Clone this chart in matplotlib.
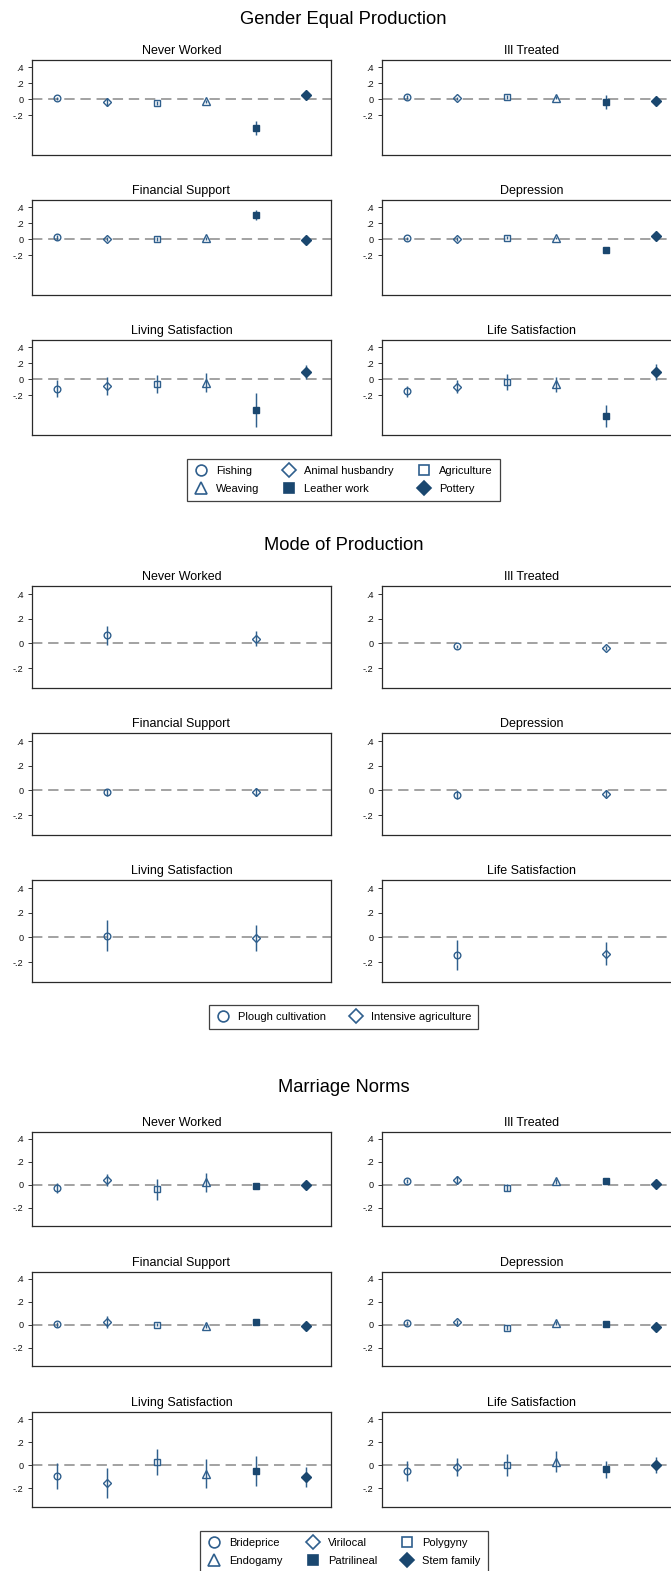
import matplotlib
matplotlib.use("Agg")
import matplotlib.pyplot as plt
from matplotlib.lines import Line2D

plt.rcParams['font.family'] = ['Liberation Sans', 'DejaVu Sans']

W, H, DPI = 671, 1571, 100

outcomes = ["Never Worked", "Ill Treated", "Financial Support",
            "Depression", "Living Satisfaction", "Life Satisfaction"]
ytick_values = [-0.2, 0.0, 0.2, 0.4]
ytick_labels = ["-.2", "0", ".2", ".4"]

# ---- Gender equal production: coefficients and 95% CI half-widths
gep_title = "Gender Equal Production"
gep_groups = ["Fishing", "Animal husbandry", "Agriculture",
              "Weaving", "Leather work", "Pottery"]
gep_coef = {
    "Never Worked":        [0.010, -0.040, -0.050, -0.030, -0.360, 0.050],
    "Ill Treated":         [0.025, 0.010, 0.025, 0.015, -0.040, -0.030],
    "Financial Support":   [0.020, 0.000, 0.000, 0.010, 0.305, -0.013],
    "Depression":          [0.010, 0.000, 0.017, 0.013, -0.140, 0.034],
    "Living Satisfaction": [-0.120, -0.088, -0.067, -0.046, -0.390, 0.092],
    "Life Satisfaction":   [-0.155, -0.096, -0.038, -0.063, -0.465, 0.088],
}
gep_ci = {
    "Never Worked":        [0.020, 0.050, 0.030, 0.020, 0.090, 0.030],
    "Ill Treated":         [0.020, 0.020, 0.020, 0.020, 0.090, 0.020],
    "Financial Support":   [0.030, 0.030, 0.020, 0.020, 0.060, 0.020],
    "Depression":          [0.020, 0.020, 0.020, 0.015, 0.020, 0.030],
    "Living Satisfaction": [0.105, 0.115, 0.113, 0.117, 0.215, 0.087],
    "Life Satisfaction":   [0.068, 0.083, 0.105, 0.095, 0.140, 0.095],
}

# ---- Mode of production
mop_title = "Mode of Production"
mop_groups = ["Plough cultivation", "Intensive agriculture"]
mop_coef = {
    "Never Worked":        [0.067, 0.040],
    "Ill Treated":         [-0.024, -0.038],
    "Financial Support":   [-0.016, -0.011],
    "Depression":          [-0.033, -0.027],
    "Living Satisfaction": [0.016, -0.005],
    "Life Satisfaction":   [-0.140, -0.130],
}
mop_ci = {
    "Never Worked":        [0.078, 0.062],
    "Ill Treated":         [0.012, 0.018],
    "Financial Support":   [0.032, 0.033],
    "Depression":          [0.039, 0.027],
    "Living Satisfaction": [0.124, 0.107],
    "Life Satisfaction":   [0.120, 0.090],
}

# ---- Marriage norms
mn_title = "Marriage Norms"
mn_groups = ["Brideprice", "Virilocal", "Polygyny",
             "Endogamy", "Patrilineal", "Stem family"]
mn_coef = {
    "Never Worked":        [-0.029, 0.044, -0.041, 0.023, -0.015, -0.006],
    "Ill Treated":         [0.032, 0.038, -0.026, 0.029, 0.029, 0.003],
    "Financial Support":   [0.003, 0.023, 0.000, -0.009, 0.023, -0.009],
    "Depression":          [0.015, 0.020, -0.026, 0.015, 0.009, -0.020],
    "Living Satisfaction": [-0.094, -0.158, 0.029, -0.073, -0.047, -0.100],
    "Life Satisfaction":   [-0.050, -0.012, 0.003, 0.029, -0.035, 0.003],
}
mn_ci = {
    "Never Worked":        [0.045, 0.053, 0.088, 0.084, 0.015, 0.015],
    "Ill Treated":         [0.020, 0.035, 0.032, 0.020, 0.020, 0.020],
    "Financial Support":   [0.020, 0.050, 0.015, 0.020, 0.020, 0.015],
    "Depression":          [0.020, 0.025, 0.020, 0.015, 0.015, 0.020],
    "Living Satisfaction": [0.112, 0.132, 0.112, 0.128, 0.132, 0.086],
    "Life Satisfaction":   [0.088, 0.078, 0.093, 0.092, 0.072, 0.067],
}

LINE_C = '#2f5f8d'
FILL_C = '#1a476f'
ZERO_C = '#8e8e8e'

# marker, filled, plot size, legend size
STYLES6 = [('o', False, 4.8, 7.8), ('D', False, 4.2, 6.8), ('s', False, 4.6, 7.0),
           ('^', False, 5.3, 8.2), ('s', True, 5.0, 7.0), ('D', True, 5.0, 7.4)]
STYLES2 = STYLES6[:2]

fig = plt.figure(figsize=(W / DPI, H / DPI), dpi=DPI)


def add_px_axes(x0, top, w, h):
    return fig.add_axes([x0 / W, 1 - (top + h) / H, w / W, h / H])


def draw_panel(ax, title, coef, ci, styles, ylim):
    n = len(coef)
    xs = list(range(1, n + 1))
    ax.axhline(0, color=ZERO_C, lw=1.15, dashes=(6.5, 3.6), zorder=1)
    for x, c, e, (m, filled, ms, _) in zip(xs, coef, ci, styles):
        ax.vlines(x, c - e, c + e, color=LINE_C, lw=1.05, zorder=2)
        col = FILL_C if filled else LINE_C
        ax.plot([x], [c], ls='none', marker=m, ms=ms,
                mfc=col if filled else 'none', mec=col, mew=1.0, zorder=3)
    ax.set_xlim(0.5, n + 0.5)
    ax.set_ylim(*ylim)
    ax.set_xticks([])
    ax.set_yticks(ytick_values)
    ax.set_yticklabels(ytick_labels)
    ax.tick_params(axis='y', length=3, width=0.7, pad=3, labelsize=6.6,
                   color='#333333', labelcolor='#111111')
    for s in ax.spines.values():
        s.set_linewidth(0.9)
        s.set_color('#2a2a2a')
    ax.set_title(title, fontsize=9, pad=4)


def draw_section(title, title_y, row_tops, row_h, coef, ci, styles, ylim):
    fig.text(343.5 / W, 1 - title_y / H, title, ha='center', va='center', fontsize=13.2)
    for i, name in enumerate(outcomes):
        r, c = divmod(i, 2)
        x0 = 32 if c == 0 else 382
        ax = add_px_axes(x0, row_tops[r], 299, row_h)
        draw_panel(ax, name, coef[name], ci[name], styles, ylim)


def draw_legend(groups, styles, ncol, cx, cy):
    handles = []
    for (m, filled, _, lms) in styles:
        col = FILL_C if filled else LINE_C
        handles.append(Line2D([], [], ls='none', marker=m, ms=lms,
                              mfc=col if filled else 'none', mec=col, mew=1.2))
    labels = list(groups)
    if ncol == 3:
        order = [0, 3, 1, 4, 2, 5]
        handles = [handles[k] for k in order]
        labels = [labels[k] for k in order]
    leg = fig.legend(handles, labels, ncol=ncol, loc='center',
                     bbox_to_anchor=(cx / W, 1 - cy / H), fontsize=8,
                     frameon=True, fancybox=False, edgecolor='#111111',
                     handlelength=1.2, handletextpad=0.75, columnspacing=2.1,
                     borderpad=0.65, labelspacing=0.68, borderaxespad=0)
    leg.get_frame().set_linewidth(0.9)


draw_section(gep_title, 19, [60, 200, 340], 94.5, gep_coef, gep_ci, STYLES6, (-0.695, 0.49))
draw_legend(gep_groups, STYLES6, 3, 343.5, 480)

draw_section(mop_title, 546, [586, 733, 880], 102, mop_coef, mop_ci, STYLES2, (-0.36, 0.465))
draw_legend(mop_groups, STYLES2, 2, 343.5, 1017)

draw_section(mn_title, 1088, [1131.5, 1271.5, 1412], 94.5, mn_coef, mn_ci, STYLES6, (-0.36, 0.465))
draw_legend(mn_groups, STYLES6, 3, 344, 1552)

fig.savefig("out.png", dpi=DPI, facecolor='white')
